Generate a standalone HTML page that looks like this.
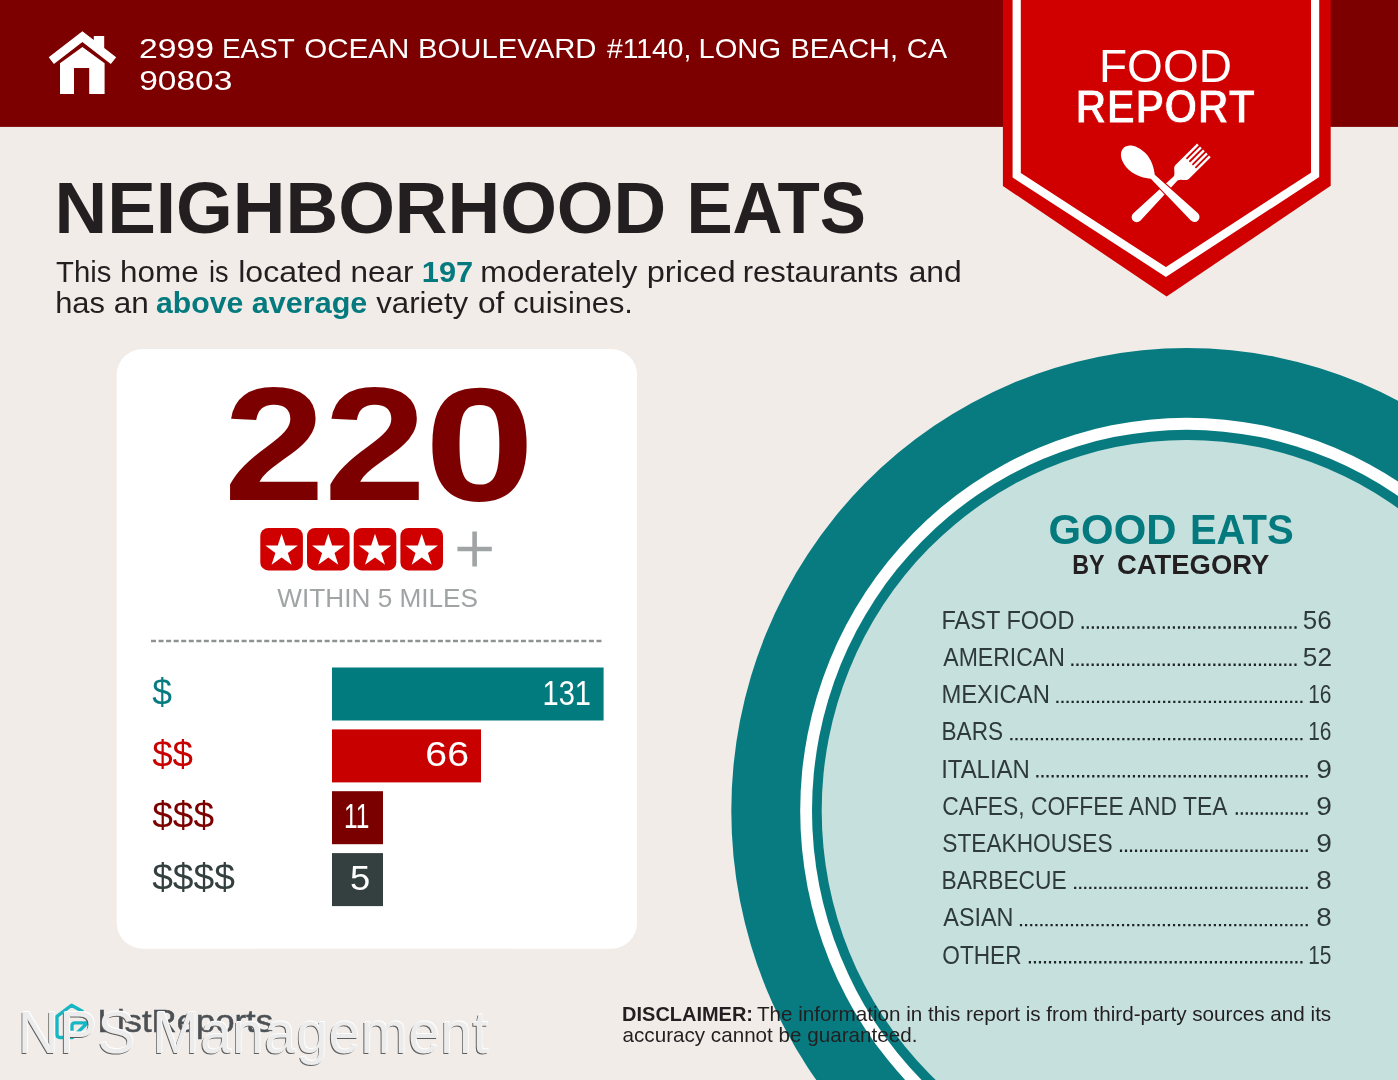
<!DOCTYPE html>
<html lang="en"><head><meta charset="utf-8"><title>Food Report - Neighborhood Eats</title>
<style>
html,body{margin:0;padding:0;background:#f1ece8;}
body{width:1398px;height:1080px;overflow:hidden;font-family:"Liberation Sans", sans-serif;}
svg{display:block;font-family:"Liberation Sans", sans-serif;}
text{white-space:pre;}
</style></head><body>
<svg width="1398" height="1080" viewBox="0 0 1398 1080">
<rect width="1398" height="1080" fill="#f1ece8"/>

<ellipse cx="1186.9" cy="810.8" rx="455.6" ry="462.8" fill="#087b80"/>
<ellipse cx="1186.9" cy="810.8" rx="386.7" ry="393.0" fill="#fff"/>
<ellipse cx="1186.9" cy="810.8" rx="374.9" ry="381.0" fill="#087b80"/>
<ellipse cx="1186.9" cy="810.8" rx="365.2" ry="370.8" fill="#c6e0dd"/>
<rect width="1398" height="126.9" fill="#7d0000"/>
<g fill="#fff"><path d="M82.4,31.25 L48.7,57.3 L53.9,63.9 L82.4,42.0 L110.8,63.9 L116.2,57.3 L104.2,47.9 L104.2,36.1 L93.8,36.1 L93.8,39.9 Z"/><path d="M60,63.2 L82.4,46.9 L104.6,63.2 L104.6,94.1 L89.2,94.1 L89.2,68.05 L74,68.05 L74,94.1 L60,94.1 Z"/></g>
<text transform="translate(138.91,58.30) scale(1.2230,1)" font-size="27.60" font-weight="400" fill="#fff" >2999</text>
<text transform="translate(221.97,58.30) scale(1.0105,1)" font-size="27.60" font-weight="400" fill="#fff" >EAST</text>
<text transform="translate(304.27,58.30) scale(1.0701,1)" font-size="27.60" font-weight="400" fill="#fff" >OCEAN</text>
<text transform="translate(418.06,58.30) scale(1.0611,1)" font-size="27.60" font-weight="400" fill="#fff" >BOULEVARD</text>
<text transform="translate(606.96,58.30) scale(1.0243,1)" font-size="27.60" font-weight="400" fill="#fff" >#1140,</text>
<text transform="translate(698.47,58.30) scale(1.0559,1)" font-size="27.60" font-weight="400" fill="#fff" >LONG</text>
<text transform="translate(790.39,58.30) scale(1.0477,1)" font-size="27.60" font-weight="400" fill="#fff" >BEACH,</text>
<text transform="translate(906.64,58.30) scale(1.0557,1)" font-size="27.60" font-weight="400" fill="#fff" >CA</text>
<text transform="translate(139.19,89.60) scale(1.2140,1)" font-size="27.60" font-weight="400" fill="#fff" >90803</text>
<path d="M1002.9,0 L1330.7,0 L1330.7,185.8 L1166.6,296.5 L1002.9,186 Z" fill="#d00000"/>
<path d="M1016.7,0 L1016.7,175.2 L1165.9,272 L1315.1,174.9 L1315.1,0" fill="none" stroke="#fff" stroke-width="8.2" stroke-miterlimit="10"/>
<text transform="translate(1099.02,81.50) scale(0.9790,1)" font-size="47.00" font-weight="400" fill="#fff" >FOOD</text>
<text transform="translate(1075.30,123.30) scale(0.8985,1)" font-size="48.00" font-weight="700" fill="#fff" stroke="#d00000" stroke-width="0.9">REPORT</text>
<path transform="translate(1133,220.8) rotate(45.2) scale(1.052)" d="M-4.85,-5 A4.85,4.85 0 0 0 4.85,-5 L2.65,-57 C3.5,-61 9.2,-62 9.2,-66 L9.2,-95 L6.9,-95 L6.9,-77.6 L5.2,-77.6 L5.2,-95 L2.9,-95 L2.9,-77.6 L1.15,-77.6 L1.15,-95 L-1.15,-95 L-1.15,-77.6 L-2.9,-77.6 L-2.9,-95 L-5.2,-95 L-5.2,-77.6 L-6.9,-77.6 L-6.9,-95 L-9.2,-95 L-9.2,-66 C-9.2,-62 -3.5,-61 -2.65,-57 Z" fill="#fff"/>
<path transform="translate(1198.2,220.5) rotate(-46) scale(1.052)" d="M-4.85,-5 A4.85,4.85 0 0 0 4.85,-5 L2.65,-60 C6,-64 11.2,-72 11.2,-81 C11.2,-91 6.5,-99 0,-99 C-6.5,-99 -11.2,-91 -11.2,-81 C-11.2,-72 -6,-64 -2.65,-60 Z" fill="#fff" stroke="#d00000" stroke-width="2" paint-order="stroke fill"/>
<text transform="translate(54.56,232.80) scale(1.0032,1)" font-size="72.70" font-weight="700" fill="#231f20" >NEIGHBORHOOD</text>
<text transform="translate(686.40,232.80) scale(0.9524,1)" font-size="72.70" font-weight="700" fill="#231f20" >EATS</text>
<text transform="translate(56.11,282.20) scale(0.9905,1)" font-size="29.60" font-weight="400" fill="#231f20" >This</text>
<text transform="translate(120.10,282.20) scale(1.0624,1)" font-size="29.60" font-weight="400" fill="#231f20" >home</text>
<text transform="translate(208.94,282.20) scale(0.9154,1)" font-size="29.60" font-weight="400" fill="#231f20" >is</text>
<text transform="translate(238.21,282.20) scale(1.0861,1)" font-size="29.60" font-weight="400" fill="#231f20" >located</text>
<text transform="translate(350.55,282.20) scale(1.0645,1)" font-size="29.60" font-weight="400" fill="#231f20" >near</text>
<text transform="translate(421.86,282.20) scale(1.0383,1)" font-size="29.60" font-weight="700" fill="#047a7e" >197</text>
<text transform="translate(480.23,282.20) scale(1.0737,1)" font-size="29.60" font-weight="400" fill="#231f20" >moderately</text>
<text transform="translate(646.68,282.20) scale(1.1040,1)" font-size="29.60" font-weight="400" fill="#231f20" >priced</text>
<text transform="translate(742.68,282.20) scale(1.0517,1)" font-size="29.60" font-weight="400" fill="#231f20" >restaurants</text>
<text transform="translate(908.63,282.20) scale(1.0763,1)" font-size="29.60" font-weight="400" fill="#231f20" >and</text>
<text transform="translate(55.14,313.10) scale(1.0438,1)" font-size="29.60" font-weight="400" fill="#231f20" >has</text>
<text transform="translate(113.64,313.10) scale(1.0656,1)" font-size="29.60" font-weight="400" fill="#231f20" >an</text>
<text transform="translate(156.09,313.10) scale(1.0201,1)" font-size="29.60" font-weight="700" fill="#047a7e" >above</text>
<text transform="translate(251.78,313.10) scale(1.0331,1)" font-size="29.60" font-weight="700" fill="#047a7e" >average</text>
<text transform="translate(376.24,313.10) scale(1.0549,1)" font-size="29.60" font-weight="400" fill="#231f20" >variety</text>
<text transform="translate(477.93,313.10) scale(1.0751,1)" font-size="29.60" font-weight="400" fill="#231f20" >of</text>
<text transform="translate(513.17,313.10) scale(1.0405,1)" font-size="29.60" font-weight="400" fill="#231f20" >cuisines.</text>
<rect x="116.7" y="348.9" width="520.4" height="599.85" rx="26" ry="26" fill="#fff"/>
<text transform="translate(223.84,500.30) scale(1.1284,1)" font-size="161.00" font-weight="700" fill="#7d0000" >2</text>
<text transform="translate(323.97,500.30) scale(1.1413,1)" font-size="161.00" font-weight="700" fill="#7d0000" >2</text>
<text transform="translate(424.57,500.30) scale(1.2318,1)" font-size="161.00" font-weight="700" fill="#7d0000" >0</text>
<rect x="260.3" y="528" width="42.6" height="42.4" rx="8" fill="#d00000"/>
<polygon points="281.60,533.80 285.44,545.62 297.86,545.62 287.81,552.92 291.65,564.73 281.60,557.43 271.55,564.73 275.39,552.92 265.34,545.62 277.76,545.62" fill="#fff"/>
<rect x="307.0" y="528" width="42.6" height="42.4" rx="8" fill="#d00000"/>
<polygon points="328.30,533.80 332.14,545.62 344.56,545.62 334.51,552.92 338.35,564.73 328.30,557.43 318.25,564.73 322.09,552.92 312.04,545.62 324.46,545.62" fill="#fff"/>
<rect x="353.7" y="528" width="42.6" height="42.4" rx="8" fill="#d00000"/>
<polygon points="375.00,533.80 378.84,545.62 391.26,545.62 381.21,552.92 385.05,564.73 375.00,557.43 364.95,564.73 368.79,552.92 358.74,545.62 371.16,545.62" fill="#fff"/>
<rect x="400.4" y="528" width="42.6" height="42.4" rx="8" fill="#d00000"/>
<polygon points="421.70,533.80 425.54,545.62 437.96,545.62 427.91,552.92 431.75,564.73 421.70,557.43 411.65,564.73 415.49,552.92 405.44,545.62 417.86,545.62" fill="#fff"/>
<path d="M457.4,549 H491.8 M474.6,531.4 V566.5" stroke="#a0a4a5" stroke-width="4.6" fill="none"/>
<text transform="translate(277.37,607.40) scale(1.0229,1)" font-size="25.60" font-weight="400" fill="#a0a4a5" >WITHIN 5 MILES</text>
<path d="M151,640.95 H603.6" stroke="#8e9293" stroke-width="2.4" stroke-dasharray="5 2.55" fill="none"/>
<rect x="332" y="667.5" width="271.6" height="53" fill="#027b7f"/>
<text transform="translate(152.15,704.70) scale(0.9718,1)" font-size="36.50" font-weight="400" fill="#087b80" >$</text>
<text transform="translate(542.52,704.60) scale(0.8448,1)" font-size="34.40" font-weight="400" fill="#fff" >131</text>
<rect x="332" y="729.4" width="149.0" height="53" fill="#c90000"/>
<text transform="translate(152.13,766.57) scale(1.0057,1)" font-size="36.50" font-weight="400" fill="#c90000" >$$</text>
<text transform="translate(425.33,766.47) scale(1.1428,1)" font-size="34.40" font-weight="400" fill="#fff" >66</text>
<rect x="332" y="791.2" width="51.0" height="53" fill="#7a0000"/>
<text transform="translate(152.13,828.44) scale(1.0167,1)" font-size="36.50" font-weight="400" fill="#7d0000" >$$$</text>
<text transform="translate(343.96,828.34) scale(0.7117,1)" font-size="34.40" font-weight="400" fill="#fff" >11</text>
<rect x="332" y="853.1" width="51.0" height="53" fill="#33403f"/>
<text transform="translate(152.13,890.31) scale(1.0198,1)" font-size="36.50" font-weight="400" fill="#33403f" >$$$$</text>
<text transform="translate(349.94,890.21) scale(1.0588,1)" font-size="34.40" font-weight="400" fill="#fff" >5</text>
<text transform="translate(1048.52,543.90) scale(0.9878,1)" font-size="42.40" font-weight="700" fill="#047a7e" >GOOD</text>
<text transform="translate(1189.90,543.90) scale(0.9443,1)" font-size="42.40" font-weight="700" fill="#047a7e" >EATS</text>
<text transform="translate(1072.29,574.40) scale(0.8628,1)" font-size="27.00" font-weight="700" fill="#231f20" >BY</text>
<text transform="translate(1117.00,574.40) scale(1.0155,1)" font-size="27.00" font-weight="700" fill="#231f20" >CATEGORY</text>
<text transform="translate(941.42,628.70) scale(0.9346,1)" font-size="25.20" font-weight="400" fill="#2f3b3b" >FAST FOOD</text>
<text transform="translate(1302.86,628.70) scale(1.0287,1)" font-size="25.20" font-weight="400" fill="#2f3b3b" >56</text>
<path d="M1081.60,627.50 H1296.60" stroke="#1c2525" stroke-width="2.4" stroke-dasharray="2.2 2.867" fill="none"/>
<text transform="translate(943.30,665.90) scale(0.9143,1)" font-size="25.20" font-weight="400" fill="#2f3b3b" >AMERICAN</text>
<text transform="translate(1302.85,665.90) scale(1.0387,1)" font-size="25.20" font-weight="400" fill="#2f3b3b" >52</text>
<path d="M1071.30,664.70 H1296.60" stroke="#1c2525" stroke-width="2.4" stroke-dasharray="2.2 2.870" fill="none"/>
<text transform="translate(941.39,703.10) scale(0.9453,1)" font-size="25.20" font-weight="400" fill="#2f3b3b" >MEXICAN</text>
<text transform="translate(1308.23,703.10) scale(0.8295,1)" font-size="25.20" font-weight="400" fill="#2f3b3b" >16</text>
<path d="M1056.30,701.90 H1302.50" stroke="#1c2525" stroke-width="2.4" stroke-dasharray="2.2 2.883" fill="none"/>
<text transform="translate(941.49,740.30) scale(0.8976,1)" font-size="25.20" font-weight="400" fill="#2f3b3b" >BARS</text>
<text transform="translate(1308.23,740.30) scale(0.8295,1)" font-size="25.20" font-weight="400" fill="#2f3b3b" >16</text>
<path d="M1010.30,739.10 H1302.50" stroke="#1c2525" stroke-width="2.4" stroke-dasharray="2.2 2.888" fill="none"/>
<text transform="translate(941.14,777.50) scale(0.9508,1)" font-size="25.20" font-weight="400" fill="#2f3b3b" >ITALIAN</text>
<text transform="translate(1316.23,777.50) scale(1.1179,1)" font-size="25.20" font-weight="400" fill="#2f3b3b" >9</text>
<path d="M1036.30,776.30 H1307.80" stroke="#1c2525" stroke-width="2.4" stroke-dasharray="2.2 2.881" fill="none"/>
<text transform="translate(942.16,814.70) scale(0.9070,1)" font-size="25.20" font-weight="400" fill="#2f3b3b" >CAFES, COFFEE AND TEA</text>
<text transform="translate(1316.23,814.70) scale(1.1179,1)" font-size="25.20" font-weight="400" fill="#2f3b3b" >9</text>
<path d="M1235.70,813.50 H1307.80" stroke="#1c2525" stroke-width="2.4" stroke-dasharray="2.2 2.793" fill="none"/>
<text transform="translate(942.28,851.90) scale(0.9013,1)" font-size="25.20" font-weight="400" fill="#2f3b3b" >STEAKHOUSES</text>
<text transform="translate(1316.23,851.90) scale(1.1179,1)" font-size="25.20" font-weight="400" fill="#2f3b3b" >9</text>
<path d="M1119.90,850.70 H1307.80" stroke="#1c2525" stroke-width="2.4" stroke-dasharray="2.2 2.819" fill="none"/>
<text transform="translate(941.48,889.10) scale(0.9036,1)" font-size="25.20" font-weight="400" fill="#2f3b3b" >BARBECUE</text>
<text transform="translate(1316.25,889.10) scale(1.1060,1)" font-size="25.20" font-weight="400" fill="#2f3b3b" >8</text>
<path d="M1074.10,887.90 H1307.80" stroke="#1c2525" stroke-width="2.4" stroke-dasharray="2.2 2.833" fill="none"/>
<text transform="translate(943.30,926.30) scale(0.9282,1)" font-size="25.20" font-weight="400" fill="#2f3b3b" >ASIAN</text>
<text transform="translate(1316.25,926.30) scale(1.1060,1)" font-size="25.20" font-weight="400" fill="#2f3b3b" >8</text>
<path d="M1019.90,925.10 H1307.80" stroke="#1c2525" stroke-width="2.4" stroke-dasharray="2.2 2.902" fill="none"/>
<text transform="translate(942.28,963.50) scale(0.8984,1)" font-size="25.20" font-weight="400" fill="#2f3b3b" >OTHER</text>
<text transform="translate(1308.23,963.50) scale(0.8295,1)" font-size="25.20" font-weight="400" fill="#2f3b3b" >15</text>
<path d="M1028.80,962.30 H1302.50" stroke="#1c2525" stroke-width="2.4" stroke-dasharray="2.2 2.828" fill="none"/>
<text transform="translate(622.10,1020.80) scale(0.9701,1)" font-size="20.60" font-weight="700" fill="#231f20" >DISCLAIMER:</text>
<text transform="translate(756.89,1020.80) scale(1.0041,1)" font-size="20.60" font-weight="400" fill="#231f20" >The information in this report is from third-party sources and its</text>
<text transform="translate(622.57,1042.10) scale(1.0024,1)" font-size="20.60" font-weight="400" fill="#231f20" >accuracy cannot be guaranteed.</text>
<path d="M83.2,1011.8 L71.5,1005.2 L57,1016.4 L57,1034.5 Q57,1037.5 60,1037.5 L72.5,1037.5 L87.6,1022.8 L75,1022.8 Q72,1022.8 72,1025.8 L72,1030.7" fill="none" stroke="#17b6c4" stroke-width="3.3" stroke-linejoin="round" stroke-linecap="butt"/>
<text transform="translate(97.62,1031.80) scale(1.0947,1)" font-size="31.70" font-weight="400" fill="#4b5055" stroke="#4b5055" stroke-width="0.5">ListReports</text>
<text transform="translate(16.90,1053.60) scale(1,1.045)" font-size="56.3" letter-spacing="0.786" fill="#5e5e5e">NPS Management</text>
<text transform="translate(18.50,1052.00) scale(1,1.045)" font-size="56.3" letter-spacing="0.786" fill="#ffffff">NPS Management</text>
<text transform="translate(17.80,1052.70) scale(1,1.045)" font-size="56.3" letter-spacing="0.786" fill="#ececec">NPS Management</text>
</svg></body></html>
